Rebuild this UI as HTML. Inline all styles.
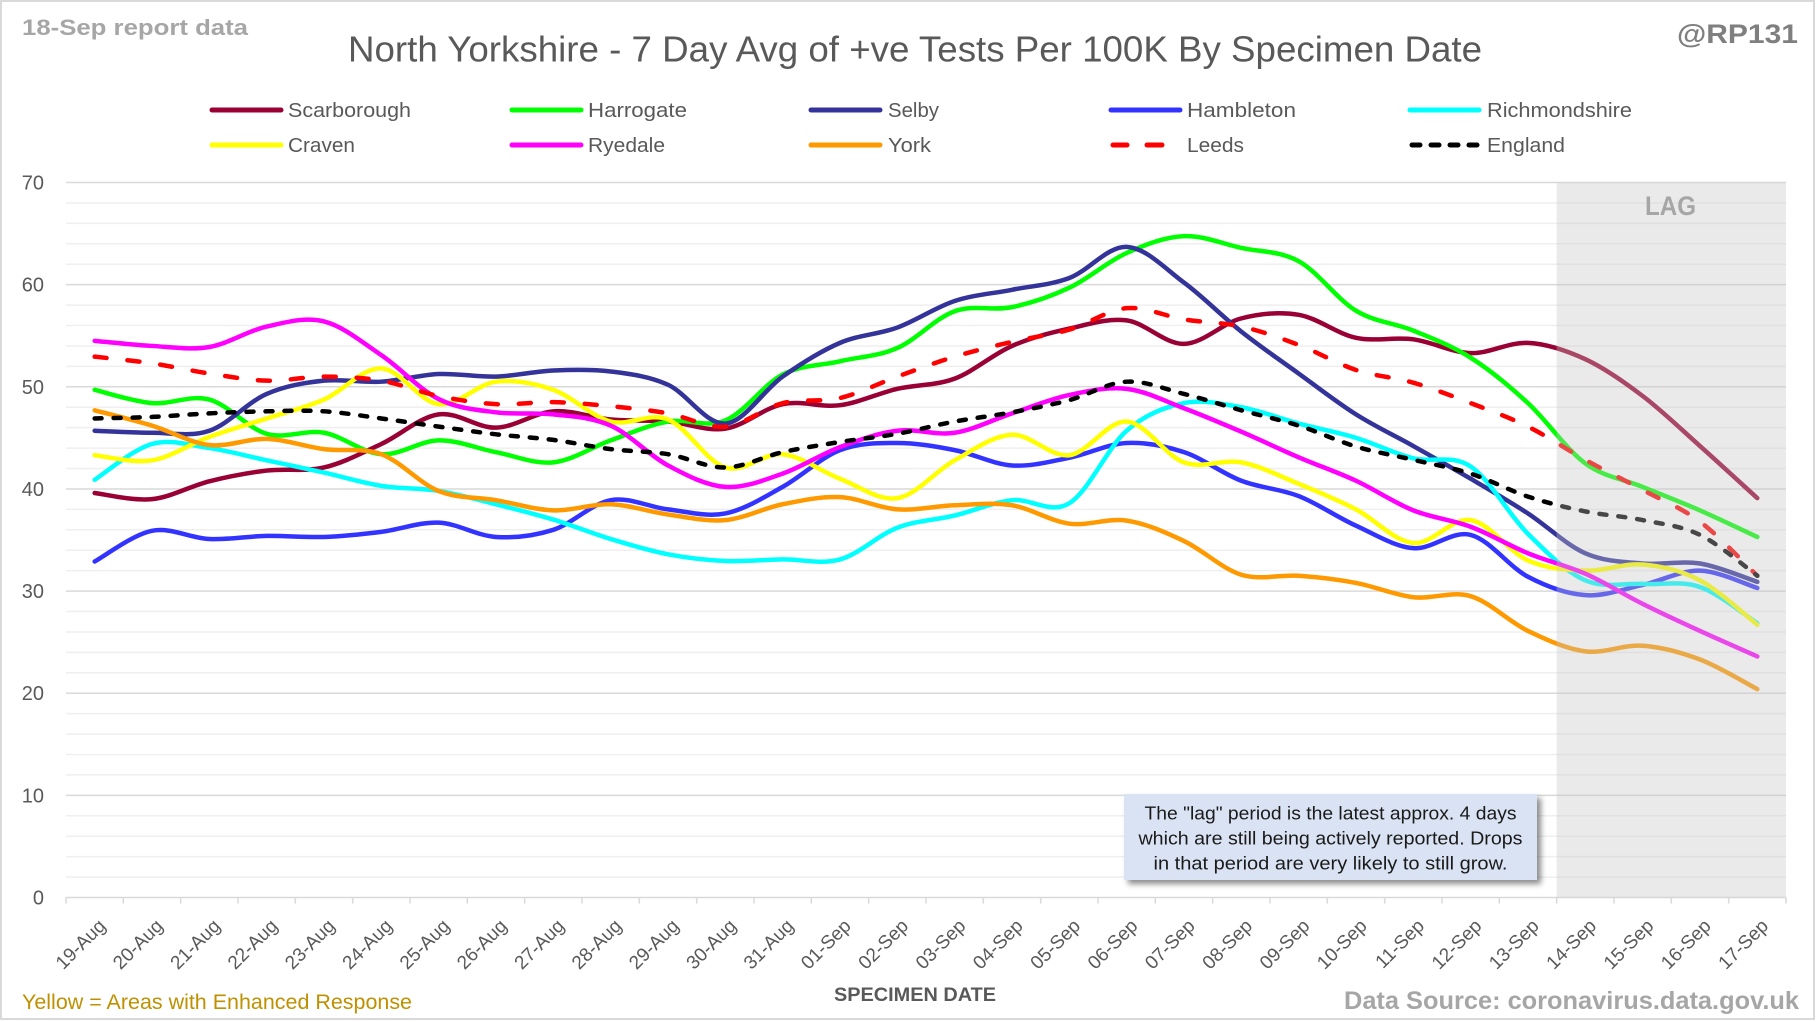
<!DOCTYPE html>
<html>
<head>
<meta charset="utf-8">
<style>
html,body{margin:0;padding:0;background:#fff;}
svg{display:block;}
text{font-family:"Liberation Sans",Arial,sans-serif;}
</style>
</head>
<body>
<svg id="chart" xmlns="http://www.w3.org/2000/svg" width="1820" height="1022" viewBox="0 0 1820 1022">
<defs>
<filter id="sh" x="-10%" y="-20%" width="130%" height="160%">
<feDropShadow dx="4" dy="4" stdDeviation="3" flood-color="#000" flood-opacity="0.45"/>
</filter>
</defs>
<rect x="0" y="0" width="1820" height="1022" fill="#fff"/>
<rect x="1" y="1" width="1813" height="1018" fill="none" stroke="#d9d9d9" stroke-width="2"/>

<!-- minor gridlines -->
<path fill="none" stroke="#efefef" stroke-width="1.5" d="M66 877.07H1786M66 856.64H1786M66 836.22H1786M66 815.79H1786M66 774.93H1786M66 754.5H1786M66 734.08H1786M66 713.65H1786M66 672.79H1786M66 652.36H1786M66 631.94H1786M66 611.51H1786M66 570.65H1786M66 550.22H1786M66 529.8H1786M66 509.37H1786M66 468.51H1786M66 448.08H1786M66 427.66H1786M66 407.23H1786M66 366.37H1786M66 345.94H1786M66 325.52H1786M66 305.09H1786M66 264.23H1786M66 243.8H1786M66 223.38H1786M66 202.95H1786"/>
<!-- major gridlines -->
<path fill="none" stroke="#d9d9d9" stroke-width="1.5" d="M66 795.36H1786M66 693.22H1786M66 591.08H1786M66 488.94H1786M66 386.8H1786M66 284.66H1786M66 182.52H1786"/>
<!-- axis + ticks -->
<path fill="none" stroke="#d9d9d9" stroke-width="1.5" d="M66 897.5H1786M66 897.5V903.5M123.33 897.5V903.5M180.67 897.5V903.5M238 897.5V903.5M295.33 897.5V903.5M352.67 897.5V903.5M410 897.5V903.5M467.33 897.5V903.5M524.67 897.5V903.5M582 897.5V903.5M639.33 897.5V903.5M696.67 897.5V903.5M754 897.5V903.5M811.33 897.5V903.5M868.67 897.5V903.5M926 897.5V903.5M983.33 897.5V903.5M1040.67 897.5V903.5M1098 897.5V903.5M1155.33 897.5V903.5M1212.67 897.5V903.5M1270 897.5V903.5M1327.33 897.5V903.5M1384.67 897.5V903.5M1442 897.5V903.5M1499.33 897.5V903.5M1556.67 897.5V903.5M1614 897.5V903.5M1671.33 897.5V903.5M1728.67 897.5V903.5M1786 897.5V903.5"/>

<!-- Y labels -->
<g fill="#595959" font-size="20" text-anchor="end">
<text x="44" y="189.5">70</text>
<text x="44" y="291.7">60</text>
<text x="44" y="393.8">50</text>
<text x="44" y="496">40</text>
<text x="44" y="598.1">30</text>
<text x="44" y="700.2">20</text>
<text x="44" y="802.4">10</text>
<text x="44" y="904.5">0</text>
</g>

<!-- X labels -->
<g fill="#595959" font-size="19" text-anchor="end">
<text transform="translate(106.67,927) rotate(-45)">19-Aug</text>
<text transform="translate(164,927) rotate(-45)">20-Aug</text>
<text transform="translate(221.33,927) rotate(-45)">21-Aug</text>
<text transform="translate(278.67,927) rotate(-45)">22-Aug</text>
<text transform="translate(336,927) rotate(-45)">23-Aug</text>
<text transform="translate(393.33,927) rotate(-45)">24-Aug</text>
<text transform="translate(450.67,927) rotate(-45)">25-Aug</text>
<text transform="translate(508,927) rotate(-45)">26-Aug</text>
<text transform="translate(565.33,927) rotate(-45)">27-Aug</text>
<text transform="translate(622.67,927) rotate(-45)">28-Aug</text>
<text transform="translate(680,927) rotate(-45)">29-Aug</text>
<text transform="translate(737.33,927) rotate(-45)">30-Aug</text>
<text transform="translate(794.67,927) rotate(-45)">31-Aug</text>
<text transform="translate(852,927) rotate(-45)">01-Sep</text>
<text transform="translate(909.33,927) rotate(-45)">02-Sep</text>
<text transform="translate(966.67,927) rotate(-45)">03-Sep</text>
<text transform="translate(1024,927) rotate(-45)">04-Sep</text>
<text transform="translate(1081.33,927) rotate(-45)">05-Sep</text>
<text transform="translate(1138.67,927) rotate(-45)">06-Sep</text>
<text transform="translate(1196,927) rotate(-45)">07-Sep</text>
<text transform="translate(1253.33,927) rotate(-45)">08-Sep</text>
<text transform="translate(1310.67,927) rotate(-45)">09-Sep</text>
<text transform="translate(1368,927) rotate(-45)">10-Sep</text>
<text transform="translate(1425.33,927) rotate(-45)">11-Sep</text>
<text transform="translate(1482.67,927) rotate(-45)">12-Sep</text>
<text transform="translate(1540,927) rotate(-45)">13-Sep</text>
<text transform="translate(1597.33,927) rotate(-45)">14-Sep</text>
<text transform="translate(1654.67,927) rotate(-45)">15-Sep</text>
<text transform="translate(1712,927) rotate(-45)">16-Sep</text>
<text transform="translate(1769.33,927) rotate(-45)">17-Sep</text>
</g>

<!-- Series (data coords, smoothed by script) -->
<g id="series" transform="matrix(57.333 0 0 -10.214 94.667 897.5)" fill="none" stroke-width="4.5" stroke-linecap="round" stroke-linejoin="round">
<polyline vector-effect="non-scaling-stroke" stroke="#990033" points="0,39.6 1,39.0 2,40.75 3,41.8 4,42.1 5,44.4 6,47.3 7,46.0 8,47.6 9,46.8 10,46.6 11,45.9 12,48.3 13,48.2 14,49.8 15,50.8 16,54.0 17,55.7 18,56.5 19,54.2 20,56.7 21,57.05 22,54.8 23,54.65 24,53.3 25,54.3 26,52.7 27,49.1 28,44.2 29,39.1"/>
<polyline vector-effect="non-scaling-stroke" stroke="#00ff00" points="0,49.7 1,48.4 2,48.75 3,45.4 4,45.5 5,43.4 6,44.75 7,43.6 8,42.6 9,44.75 10,46.6 11,46.7 12,51.2 13,52.5 14,53.8 15,57.4 16,57.8 17,59.7 18,63.1 19,64.75 20,63.6 21,62.3 22,57.45 23,55.5 24,52.85 25,48.4 26,42.5 27,40.2 28,37.9 29,35.3"/>
<polyline vector-effect="non-scaling-stroke" stroke="#333399" points="0,45.7 1,45.5 2,45.7 3,49.3 4,50.6 5,50.5 6,51.25 7,51.0 8,51.6 9,51.5 10,50.2 11,46.4 12,51.0 13,54.3 14,55.8 15,58.4 16,59.5 17,60.65 18,63.7 19,60.2 20,55.4 21,51.3 22,47.3 23,44.2 24,41.0 25,37.6 26,33.7 27,32.7 28,32.7 29,30.9"/>
<polyline vector-effect="non-scaling-stroke" stroke="#3333ff" points="0,32.9 1,35.9 2,35.1 3,35.4 4,35.3 5,35.8 6,36.7 7,35.3 8,36.0 9,38.9 10,38.0 11,37.6 12,40.2 13,43.8 14,44.5 15,43.8 16,42.3 17,43.05 18,44.5 19,43.6 20,40.8 21,39.3 22,36.4 23,34.2 24,35.5 25,31.4 26,29.6 27,30.6 28,32.0 29,30.3"/>
<polyline vector-effect="non-scaling-stroke" stroke="#00ffff" points="0,40.9 1,44.4 2,44.0 3,42.8 4,41.6 5,40.3 6,39.8 7,38.5 8,37.0 9,35.1 10,33.6 11,32.95 12,33.1 13,33.1 14,36.2 15,37.4 16,38.9 17,38.6 18,45.7 19,48.4 20,48.0 21,46.4 22,45.0 23,43.0 24,42.2 25,35.6 26,31.05 27,30.7 28,30.4 29,26.85"/>
<polyline vector-effect="non-scaling-stroke" stroke="#ffff00" points="0,43.3 1,42.8 2,45.1 3,46.9 4,48.75 5,51.8 6,48.3 7,50.5 8,49.7 9,46.6 10,46.8 11,42.1 12,43.4 13,41.0 14,39.1 15,42.8 16,45.3 17,43.3 18,46.6 19,42.6 20,42.6 21,40.5 22,38.0 23,34.7 24,36.95 25,33.0 26,32.0 27,32.6 28,31.05 29,26.7"/>
<polyline vector-effect="non-scaling-stroke" stroke="#ff00ff" points="0,54.5 1,54.0 2,53.9 3,55.9 4,56.4 5,53.1 6,48.8 7,47.5 8,47.3 9,46.2 10,42.3 11,40.2 12,41.5 13,44.1 14,45.7 15,45.5 16,47.4 17,49.2 18,49.8 19,47.9 20,45.6 21,43.1 22,40.8 23,37.9 24,36.3 25,33.7 26,31.7 27,28.75 28,26.1 29,23.6"/>
<polyline vector-effect="non-scaling-stroke" stroke="#ff9900" points="0,47.7 1,46.2 2,44.3 3,44.9 4,43.9 5,43.4 6,39.8 7,38.9 8,37.9 9,38.5 10,37.5 11,36.95 12,38.5 13,39.2 14,38.0 15,38.4 16,38.4 17,36.6 18,36.9 19,34.9 20,31.6 21,31.5 22,30.8 23,29.4 24,29.5 25,26.1 26,24.1 27,24.65 28,23.3 29,20.4"/>
<polyline vector-effect="non-scaling-stroke" stroke="#ff0000" stroke-dasharray="12 21" points="0,52.95 1,52.3 2,51.3 3,50.6 4,51.0 5,50.6 6,49.1 7,48.3 8,48.5 9,48.1 10,47.4 11,46.1 12,48.4 13,48.9 14,51.0 15,52.95 16,54.4 17,55.6 18,57.7 19,56.6 20,55.9 21,54.1 22,51.65 23,50.4 24,48.4 25,46.1 26,42.85 27,39.9 28,36.8 29,31.5"/>
<polyline vector-effect="non-scaling-stroke" stroke="#000000" stroke-dasharray="7 12" points="0,46.9 1,47.05 2,47.4 3,47.6 4,47.6 5,46.9 6,46.1 7,45.35 8,44.8 9,43.9 10,43.4 11,42.1 12,43.6 13,44.6 14,45.4 15,46.6 16,47.5 17,48.7 18,50.5 19,49.3 20,47.7 21,46.2 22,44.15 23,42.85 24,41.5 25,39.25 26,37.8 27,36.95 28,35.5 29,31.5"/>
</g>
<g id="smooth" fill="none" stroke-width="4.5" stroke-linecap="round" stroke-linejoin="round"></g>

<!-- LAG overlay -->
<rect x="1556.67" y="182.5" width="229.33" height="715" fill="#c4c4c4" fill-opacity="0.36"/>
<text x="1670.5" y="215" font-size="27" font-weight="bold" fill="#a6a6a6" text-anchor="middle" textLength="51" lengthAdjust="spacingAndGlyphs">LAG</text>

<!-- Annotation -->
<rect x="1124" y="794" width="413" height="86" fill="#dae3f3" filter="url(#sh)"/>
<g font-size="18" fill="#1a1a1a" text-anchor="middle">
<text x="1330.5" y="819.3" textLength="372" lengthAdjust="spacingAndGlyphs">The "lag" period is the latest approx. 4 days</text>
<text x="1330.5" y="844.3" textLength="384" lengthAdjust="spacingAndGlyphs">which are still being actively reported.  Drops</text>
<text x="1330.5" y="869.3" textLength="354" lengthAdjust="spacingAndGlyphs">in that period are very likely to still grow.</text>
</g>

<!-- Title & corner texts -->
<text x="915" y="61.5" font-size="36" fill="#595959" text-anchor="middle" textLength="1134" lengthAdjust="spacingAndGlyphs">North Yorkshire - 7 Day Avg of +ve Tests Per 100K By Specimen Date</text>
<text x="22" y="35" font-size="22" font-weight="bold" fill="#a6a6a6" textLength="226" lengthAdjust="spacingAndGlyphs">18-Sep report data</text>
<text x="1677" y="43" font-size="27" font-weight="bold" fill="#7f7f7f" textLength="121" lengthAdjust="spacingAndGlyphs">@RP131</text>

<!-- Legend -->
<g stroke-width="5" stroke-linecap="round" fill="none">
<line x1="212" y1="110" x2="281" y2="110" stroke="#990033"/>
<line x1="512" y1="110" x2="581" y2="110" stroke="#00ff00"/>
<line x1="811" y1="110" x2="880" y2="110" stroke="#333399"/>
<line x1="1111" y1="110" x2="1180" y2="110" stroke="#3333ff"/>
<line x1="1410" y1="110" x2="1479" y2="110" stroke="#00ffff"/>
<line x1="212" y1="145" x2="281" y2="145" stroke="#ffff00"/>
<line x1="512" y1="145" x2="581" y2="145" stroke="#ff00ff"/>
<line x1="811" y1="145" x2="880" y2="145" stroke="#ff9900"/>
<line x1="1113" y1="145" x2="1127" y2="145" stroke="#ff0000"/>
<line x1="1147" y1="145" x2="1162" y2="145" stroke="#ff0000"/>
<line x1="1412" y1="145" x2="1420" y2="145" stroke="#000"/>
<line x1="1431" y1="145" x2="1439" y2="145" stroke="#000"/>
<line x1="1450" y1="145" x2="1458" y2="145" stroke="#000"/>
<line x1="1469" y1="145" x2="1477" y2="145" stroke="#000"/>
</g>
<g font-size="20.5" fill="#595959">
<text x="288" y="117" textLength="123" lengthAdjust="spacingAndGlyphs">Scarborough</text>
<text x="588" y="117" textLength="99" lengthAdjust="spacingAndGlyphs">Harrogate</text>
<text x="888" y="117" textLength="51" lengthAdjust="spacingAndGlyphs">Selby</text>
<text x="1187" y="117" textLength="109" lengthAdjust="spacingAndGlyphs">Hambleton</text>
<text x="1487" y="117" textLength="145" lengthAdjust="spacingAndGlyphs">Richmondshire</text>
<text x="288" y="152" textLength="67" lengthAdjust="spacingAndGlyphs">Craven</text>
<text x="588" y="152" textLength="77" lengthAdjust="spacingAndGlyphs">Ryedale</text>
<text x="888" y="152" textLength="43" lengthAdjust="spacingAndGlyphs">York</text>
<text x="1187" y="152" textLength="57" lengthAdjust="spacingAndGlyphs">Leeds</text>
<text x="1487" y="152" textLength="78" lengthAdjust="spacingAndGlyphs">England</text>
</g>

<!-- Bottom texts -->
<text x="915" y="1001" font-size="19" font-weight="bold" fill="#595959" text-anchor="middle" textLength="162" lengthAdjust="spacingAndGlyphs">SPECIMEN DATE</text>
<text x="22" y="1009" font-size="21" fill="#bf9000" textLength="390" lengthAdjust="spacingAndGlyphs">Yellow = Areas with Enhanced Response</text>
<text x="1344" y="1009" font-size="25" font-weight="bold" fill="#a6a6a6" textLength="455" lengthAdjust="spacingAndGlyphs">Data Source: coronavirus.data.gov.uk</text>
</svg>
<script>
(function(){
  var ns="http://www.w3.org/2000/svg";
  var src=document.getElementById('series');
  var dst=document.getElementById('smooth');
  var sx=57.333, ox=94.667, sy=-10.214, oy=897.5;
  var pls=src.querySelectorAll('polyline');
  for(var k=0;k<pls.length;k++){
    var pl=pls[k];
    var raw=pl.getAttribute('points').trim().split(/\s+/);
    var pts=raw.map(function(s){var a=s.split(',');return [ox+parseFloat(a[0])*sx, oy+parseFloat(a[1])*sy];});
    var f=function(p){return p[0].toFixed(2)+','+p[1].toFixed(2);};
    var d='M'+f(pts[0]);
    for(var i=0;i<pts.length-1;i++){
      var p0=pts[Math.max(i-1,0)],p1=pts[i],p2=pts[i+1],p3=pts[Math.min(i+2,pts.length-1)];
      var c1=[p1[0]+(p2[0]-p0[0])/6,p1[1]+(p2[1]-p0[1])/6];
      var c2=[p2[0]-(p3[0]-p1[0])/6,p2[1]-(p3[1]-p1[1])/6];
      d+=' C'+f(c1)+' '+f(c2)+' '+f(p2);
    }
    var p=document.createElementNS(ns,'path');
    p.setAttribute('d',d);
    p.setAttribute('stroke',pl.getAttribute('stroke'));
    var da=pl.getAttribute('stroke-dasharray');
    if(da){p.setAttribute('stroke-dasharray',da);}
    dst.appendChild(p);
  }
  src.parentNode.removeChild(src);
})();
</script>
</body>
</html>
